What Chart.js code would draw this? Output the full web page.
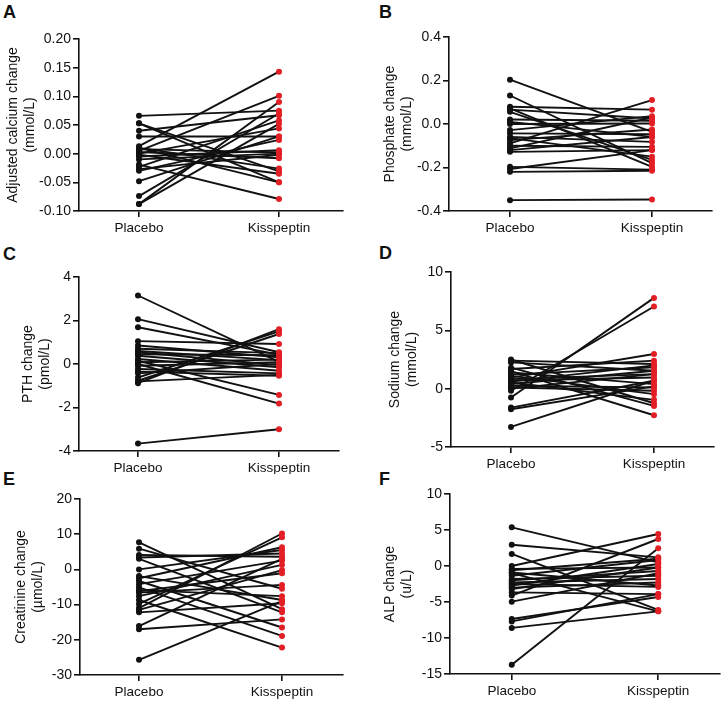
<!DOCTYPE html>
<html>
<head>
<meta charset="utf-8">
<script src="https://cdn.jsdelivr.net/npm/chart.js@4.4.1/dist/chart.umd.min.js"></script>
<style>
    body { margin: 0; background: #fff; width: 724px; height: 701px; position: relative; overflow: hidden; font-family: "Liberation Sans", Arial, sans-serif; }
    .panel-letter { position: absolute; font-weight: bold; font-size: 18px; line-height: 1; color: #111; }
    canvas { position: absolute; }
</style>
</head>
<body>
<div class="panel-letter" style="left:3px;top:3px">A</div>
<div class="panel-letter" style="left:379px;top:3px">B</div>
<div class="panel-letter" style="left:3px;top:245px">C</div>
<div class="panel-letter" style="left:379px;top:244px">D</div>
<div class="panel-letter" style="left:3px;top:470px">E</div>
<div class="panel-letter" style="left:379px;top:470px">F</div>

<canvas id="chart-a" width="362" height="240" style="left:0;top:0"></canvas>
<canvas id="chart-b" width="362" height="240" style="left:362px;top:0"></canvas>
<canvas id="chart-c" width="362" height="240" style="left:0;top:234px"></canvas>
<canvas id="chart-d" width="362" height="240" style="left:362px;top:234px"></canvas>
<canvas id="chart-e" width="362" height="234" style="left:0;top:467px"></canvas>
<canvas id="chart-f" width="362" height="234" style="left:362px;top:467px"></canvas>

<script>
// Data (paired: placebo[i] -> kisspeptin[i])
const categories = ['Placebo', 'Kisspeptin'];

const calciumPlacebo    = [0.066, 0.053, 0.053, 0.040, 0.030, 0.013, 0.010, 0.008, 0.005, 0.003, 0.000, -0.002, -0.005, -0.019, -0.023, -0.027, -0.030, -0.048, -0.074, -0.088, -0.088, 0.010, -0.010];
const calciumKisspeptin = [0.075, -0.031, -0.050, 0.067, 0.030, 0.143, -0.026, 0.002, 0.101, -0.008, 0.044, -0.035, 0.006, -0.079, 0.058, -0.002, 0.024, 0.030, 0.070, 0.090, 0.052, -0.050, 0.000];

const phosphatePlacebo    = [0.204, 0.131, 0.079, 0.072, 0.066, 0.056, 0.021, 0.010, 0.000, -0.028, -0.043, -0.059, -0.065, -0.074, -0.089, -0.100, -0.112, -0.120, -0.128, -0.197, -0.207, -0.220, -0.350];
const phosphateKisspeptin = [-0.036, -0.180, 0.066, -0.197, 0.025, -0.165, 0.015, -0.059, 0.002, 0.036, -0.047, -0.082, -0.150, -0.025, 0.110, -0.105, 0.030, -0.060, -0.120, -0.210, -0.120, -0.215, -0.347];

const pthPlacebo    = [3.15, 2.06, 1.69, 1.05, 0.85, 0.70, 0.60, 0.54, 0.45, 0.38, 0.23, 0.15, 0.08, 0.00, -0.08, -0.23, -0.35, -0.43, -0.62, -0.77, -0.88, -0.80, -3.66];
const pthKisspeptin = [0.10, 0.54, 0.43, 0.92, 0.31, 0.50, 0.18, -0.05, 0.40, -0.15, -0.31, -1.42, 0.20, -1.82, 0.08, -0.43, -0.54, 0.00, 1.50, 1.38, 1.60, -0.50, -3.00];

const sodiumPlacebo    = [2.50, 2.40, 2.25, 1.68, 1.50, 1.40, 1.20, 1.10, 0.95, 0.82, 0.70, 0.53, 0.40, 0.25, 0.10, 0.00, -0.18, -0.76, -1.62, -1.76, -3.28, 1.80, 0.60];
const sodiumKisspeptin = [-1.25, 2.12, 1.54, 2.40, -2.28, 0.39, 1.83, -0.47, 2.97, 1.25, 0.96, -0.96, 1.54, 0.10, -0.18, 1.25, 7.04, 7.78, 0.68, 0.20, 0.70, -1.48, 2.00];

const creatininePlacebo    = [7.7, 5.9, 4.1, 3.4, 3.0, 0.0, -1.9, -2.5, -3.3, -4.2, -5.1, -5.9, -6.2, -6.6, -7.6, -8.7, -9.8, -11.0, -11.5, -12.2, -16.1, -17.0, -25.7];
const creatinineKisspeptin = [-11.3, -5.5, 3.6, 4.5, -12.2, 5.5, -8.7, 6.3, -16.5, 2.5, -18.9, -7.6, -1.1, -4.4, 1.3, -22.2, 9.1, 10.2, -0.2, -9.6, 3.0, -14.2, -9.0];

const alpPlacebo    = [5.37, 2.96, 1.67, 0.00, -0.40, -0.90, -1.35, -1.80, -2.00, -2.30, -2.70, -3.00, -3.20, -3.66, -4.10, -4.95, -1.00, -7.36, -7.70, -8.60, -13.70, -0.60, -2.50];
const alpKisspeptin = [0.50, 1.20, -6.10, 4.44, -0.20, -2.70, 0.83, -1.35, -0.70, -1.80, 0.28, -2.30, -0.20, -3.90, 3.75, -1.00, -6.30, -4.30, -3.90, -6.30, 2.45, 1.00, -2.90];

// Y axis ticks
const calciumTicks = [-0.10, -0.05, 0.00, 0.05, 0.10, 0.15, 0.20];
const phosphateTicks = [-0.4, -0.2, 0.0, 0.2, 0.4];
const pthTicks = [-4, -2, 0, 2, 4];
const sodiumTicks = [-5, 0, 5, 10];
const creatinineTicks = [-30, -20, -10, 0, 10, 20];
const alpTicks = [-15, -10, -5, 0, 5, 10];

const INK = '#111';
const RED = '#e31f26';
const FONT = '"Liberation Sans", Arial, sans-serif';

// Build one paired-dot panel
function makePanel(id, placebo, kisspeptin, yTicks, decimals, title, geo) {
    const canvas = document.getElementById(id);
    const unit = geo.kx - geo.px;

    const datasets = placebo.map((p, i) => ({
        data: [{ x: 0, y: p }, { x: 1, y: kisspeptin[i] }],
        borderColor: INK,
        borderWidth: 1.9,
        pointBackgroundColor: [INK, RED],
        pointBorderWidth: 0,
        pointRadius: 3
    }));

    return new Chart(canvas, {
        type: 'line',
        data: { datasets },
        options: {
            responsive: false,
            animation: false,
            layout: {
                padding: {
                    left: geo.titleLeft - geo.cx,
                    top: geo.top - geo.cy,
                    right: geo.cx + 362 - geo.right,
                    bottom: 0
                }
            },
            plugins: {
                legend: { display: false },
                tooltip: { enabled: false }
            },
            scales: {
                x: {
                    type: 'linear',
                    min: -(geo.px - geo.left) / unit,
                    max: (geo.right - geo.px) / unit,
                    afterBuildTicks: s => { s.ticks = [{ value: 0 }, { value: 1 }]; },
                    afterFit: s => { s.height = geo.cy + canvas.height - geo.bottom; },
                    ticks: {
                        callback: v => categories[v],
                        font: { family: FONT, size: 13.5 },
                        color: INK,
                        padding: 3,
                        maxRotation: 0,
                        autoSkip: false
                    },
                    grid: { drawOnChartArea: false, drawTicks: true, tickLength: 6, color: INK, lineWidth: 1.6 },
                    border: { color: INK, width: 1.6 }
                },
                y: {
                    min: yTicks[0],
                    max: yTicks[yTicks.length - 1],
                    afterBuildTicks: s => { s.ticks = yTicks.map(v => ({ value: v })); },
                    afterFit: s => { s.width = geo.left - geo.titleLeft; },
                    ticks: {
                        callback: v => v.toFixed(decimals),
                        font: { family: FONT, size: 14 },
                        color: INK,
                        padding: 2
                    },
                    grid: { drawOnChartArea: false, drawTicks: true, tickLength: 6, color: INK, lineWidth: 1.6 },
                    border: { color: INK, width: 1.6 },
                    title: {
                        display: true,
                        text: title,
                        font: { family: FONT, size: 14 },
                        color: INK,
                        padding: 0
                    }
                }
            }
        }
    });
}

makePanel('chart-a', calciumPlacebo, calciumKisspeptin, calciumTicks, 2,
    ['Adjusted calcium change', '(mmol/L)'],
    { cx: 0, cy: 0, titleLeft: 5, left: 79, top: 39, right: 343, bottom: 211, px: 139, kx: 279 });

makePanel('chart-b', phosphatePlacebo, phosphateKisspeptin, phosphateTicks, 1,
    ['Phosphate change', '(mmol/L)'],
    { cx: 362, cy: 0, titleLeft: 382, left: 449, top: 37, right: 712, bottom: 211, px: 510, kx: 652 });

makePanel('chart-c', pthPlacebo, pthKisspeptin, pthTicks, 0,
    ['PTH change', '(pmol/L)'],
    { cx: 0, cy: 234, titleLeft: 20, left: 79, top: 277, right: 339, bottom: 451, px: 138, kx: 279 });

makePanel('chart-d', sodiumPlacebo, sodiumKisspeptin, sodiumTicks, 0,
    ['Sodium change', '(mmol/L)'],
    { cx: 362, cy: 234, titleLeft: 387, left: 451, top: 272, right: 714, bottom: 447, px: 511, kx: 654 });

makePanel('chart-e', creatininePlacebo, creatinineKisspeptin, creatinineTicks, 0,
    ['Creatinine change', '(\u00b5mol/L)'],
    { cx: 0, cy: 467, titleLeft: 13, left: 80, top: 499, right: 343, bottom: 675, px: 139, kx: 282 });

makePanel('chart-f', alpPlacebo, alpKisspeptin, alpTicks, 0,
    ['ALP change', '(u/L)'],
    { cx: 362, cy: 467, titleLeft: 382, left: 450, top: 494, right: 721, bottom: 674, px: 512, kx: 659 });
</script>
</body>
</html>
